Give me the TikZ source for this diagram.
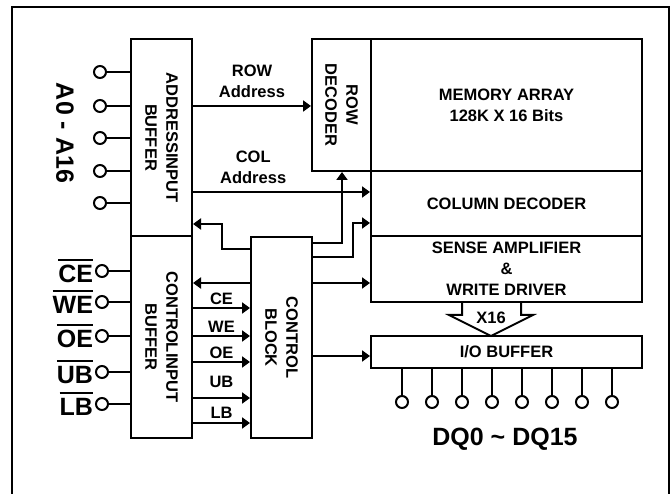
\documentclass[tikz,border=0pt]{standalone}
\usepackage{fontspec}
\setmainfont{Liberation Sans}
\usetikzlibrary{arrows.meta}
\newcommand{\blklbl}{\bfseries\fontsize{16.5}{21}\selectfont}
\newcommand{\pinlbl}{\bfseries\fontsize{25}{30}\selectfont}
\newcommand{\ovl}[1]{\vbox{\hrule height 2pt\kern 4pt\hbox{#1}}}

\begin{document}
\begin{tikzpicture}[x=1pt,y=-1pt,line width=2pt,font=\blklbl,
    >={Triangle[length=8pt,width=11pt]},
    blk/.style={draw,minimum width=61pt,inner sep=0pt},
    vtext/.style={rotate=-90,align=center,font=\blklbl},
    pad/.style={draw,circle,fill=white,minimum size=12pt,inner sep=0pt},
    sig/.style={font=\pinlbl,inner sep=1pt}]
    \useasboundingbox (0,0) rectangle (672,494);
    % frame
    \draw [line width=2.5pt] (12,494) |- (669,7) -- (669,494);
    % blocks
    \node [blk,minimum height=197pt,label={[vtext]center:ADDRESSINPUT\\BUFFER}] (addr) at (161.5,137.5) {};
    \node [blk,minimum height=202pt,label={[vtext]center:CONTROLINPUT\\BUFFER}] (ctrlin) at (161.5,337) {};
    \node [blk,minimum height=201pt,label={[vtext]center:CONTROL\\BLOCK}] (ctrl) at (281.5,337.5) {};
    \node [blk,minimum width=59pt,minimum height=132pt,label={[vtext]center:ROW\\DECODER}] (rowdec) at (341.5,105) {};
    \node [blk,minimum width=271pt,minimum height=132pt,align=center] (mem) at (506.5,105) {MEMORY ARRAY\\128K X 16 Bits};
    \node [blk,minimum width=271pt,minimum height=65pt] (coldec) at (506.5,203.5) {COLUMN DECODER};
    \node [blk,minimum width=271pt,minimum height=66pt,align=center] (sense) at (506.5,269) {SENSE AMPLIFIER\\\&\\WRITE DRIVER};
    \node [blk,minimum width=271pt,minimum height=32pt] (iobuf) at (506.5,352) {I/O BUFFER};
    % address pins
    \foreach \y [count=\i] in {72,106,138,171,203}
        {\node [pad] (a\i) at (100,\y) {};
         \draw (a\i) -- (addr.west |- a\i);}
    \node [font=\pinlbl,rotate=-90] (alabel) at (65,133) {A0 - A16};
    % control pins
    \foreach \s/\y in {CE/271,WE/302,OE/336,UB/372,LB/404}
        {\node [pad,label={[sig]left:\ovl{\s}}] (\s) at (102,\y) {};
         \draw (\s) -- (ctrlin.west |- \s);}
    \foreach \s/\y/\d in {CE/308/2.5,WE/336/3,OE/362/2.5,UB/398/9,LB/423/3.5}
        \draw [->] (ctrlin.east |- 0,\y) -- node [above=\d pt,inner sep=0pt] {\s} (ctrl.west |- 0,\y);
    % address paths
    \draw [->] (addr.east |- 0,106) -- node [above=7pt,inner sep=0pt,align=center] {ROW\\Address} (rowdec.west |- 0,106);
    \draw [->] (addr.east |- 0,192) -- node [pos=0.34,above=7pt,inner sep=0pt,align=center] {COL\\Address} (coldec.west |- 0,192);
    % control block outputs
    \draw [->] (ctrl.west |- 0,283) -- (ctrlin.east |- 0,283);
    \draw [->] (ctrl.west |- 0,249) -| (222,224) -- (addr.east |- 0,224);
    \draw [->] (ctrl.east |- 0,243) -| (rowdec.south -| 342,0);
    \draw [->] (ctrl.east |- 0,257) -| (353,223) -- (coldec.west |- 0,223);
    \draw [->] (ctrl.east |- 0,283) -- (sense.west |- 0,283);
    \draw [->] (ctrl.east |- 0,356) -- (iobuf.west |- 0,356);
    % x16 bus
    \draw (462,302) -- (462,315) -- (449,315) -- (491,336) -- (533,315) -- (521,315) -- (521,302);
    \node (xbus) at (491,318) {X16};
    % data pins
    \foreach \x [count=\i] in {402,432,...,612}
        {\node [pad] (dq\i) at (\x,402) {};
         \draw (iobuf.south -| dq\i) -- (dq\i);}
    \node [font=\pinlbl] (dqlabel) at (505,439) {DQ0 \textasciitilde{} DQ15};
\end{tikzpicture}
\end{document}
